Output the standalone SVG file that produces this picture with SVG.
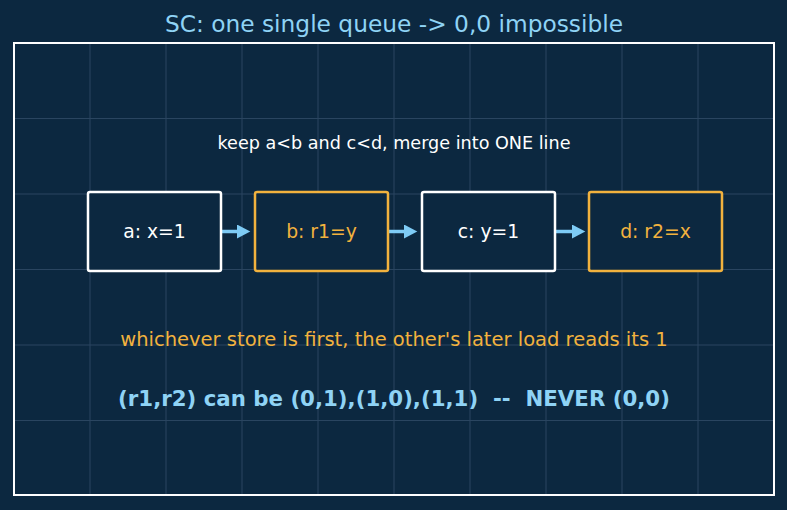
<svg xmlns="http://www.w3.org/2000/svg" width="787" height="510" viewBox="0 0 787 510">
<style>
text{font-family:"DejaVu Sans",sans-serif;text-anchor:middle;white-space:pre}
.grid line{stroke:#2a4560;stroke-width:1}
.node rect{fill:#0c2840;stroke-width:2.5}
.w rect{stroke:#ffffff}.w text{fill:#ffffff}
.o rect{stroke:#f2b23e}.o text{fill:#f2b23e}
.node text{font-size:18.8px}
.conn line{stroke:#7ecbf5;stroke-width:3.5}
</style>
<defs>
<marker id="ah" markerWidth="4" markerHeight="4" refX="0" refY="2" orient="auto" markerUnits="strokeWidth">
<path d="M0,0 L3.8,2 L0,4 Z" fill="#7ecbf5"/>
</marker>
</defs>
<rect width="787" height="510" fill="#0c2840"/>
<g class="grid">
<line x1="90" y1="43" x2="90" y2="495"/><line x1="166" y1="43" x2="166" y2="495"/><line x1="242" y1="43" x2="242" y2="495"/><line x1="318" y1="43" x2="318" y2="495"/><line x1="394" y1="43" x2="394" y2="495"/><line x1="470" y1="43" x2="470" y2="495"/><line x1="546" y1="43" x2="546" y2="495"/><line x1="622" y1="43" x2="622" y2="495"/><line x1="698" y1="43" x2="698" y2="495"/>
<line x1="14" y1="118.5" x2="774" y2="118.5"/><line x1="14" y1="194" x2="774" y2="194"/><line x1="14" y1="269.5" x2="774" y2="269.5"/><line x1="14" y1="345" x2="774" y2="345"/><line x1="14" y1="420.5" x2="774" y2="420.5"/>
</g>
<rect x="14" y="43" width="760" height="452" fill="none" stroke="#ffffff" stroke-width="2"/>
<text x="394" y="32" font-size="23.3" fill="#8fd3f5">SC: one single queue -&gt; 0,0 impossible</text>
<text x="394" y="149" font-size="17.6" fill="#ffffff">keep a&lt;b and c&lt;d, merge into ONE line</text>
<g class="conn">
<line x1="222" y1="231.5" x2="237" y2="231.5" marker-end="url(#ah)"/>
<line x1="389" y1="231.5" x2="404" y2="231.5" marker-end="url(#ah)"/>
<line x1="556" y1="231.5" x2="572" y2="231.5" marker-end="url(#ah)"/>
</g>
<g id="a" class="node w"><rect x="88" y="192" width="133" height="79" rx="2"/><text x="154.5" y="238">a: x=1</text></g>
<g id="b" class="node o"><rect x="255" y="192" width="133" height="79" rx="2"/><text x="321.5" y="238">b: r1=y</text></g>
<g id="c" class="node w"><rect x="422" y="192" width="133" height="79" rx="2"/><text x="488.5" y="238">c: y=1</text></g>
<g id="d" class="node o"><rect x="589" y="192" width="133" height="79" rx="2"/><text x="655.5" y="238">d: r2=x</text></g>
<text x="394" y="346" font-size="19.5" fill="#f2b23e">whichever store is first, the other's later load reads its 1</text>
<text x="394" y="406" font-size="21.3" font-weight="bold" fill="#8fd3f5" xml:space="preserve">(r1,r2) can be (0,1),(1,0),(1,1)  --  NEVER (0,0)</text>
</svg>
